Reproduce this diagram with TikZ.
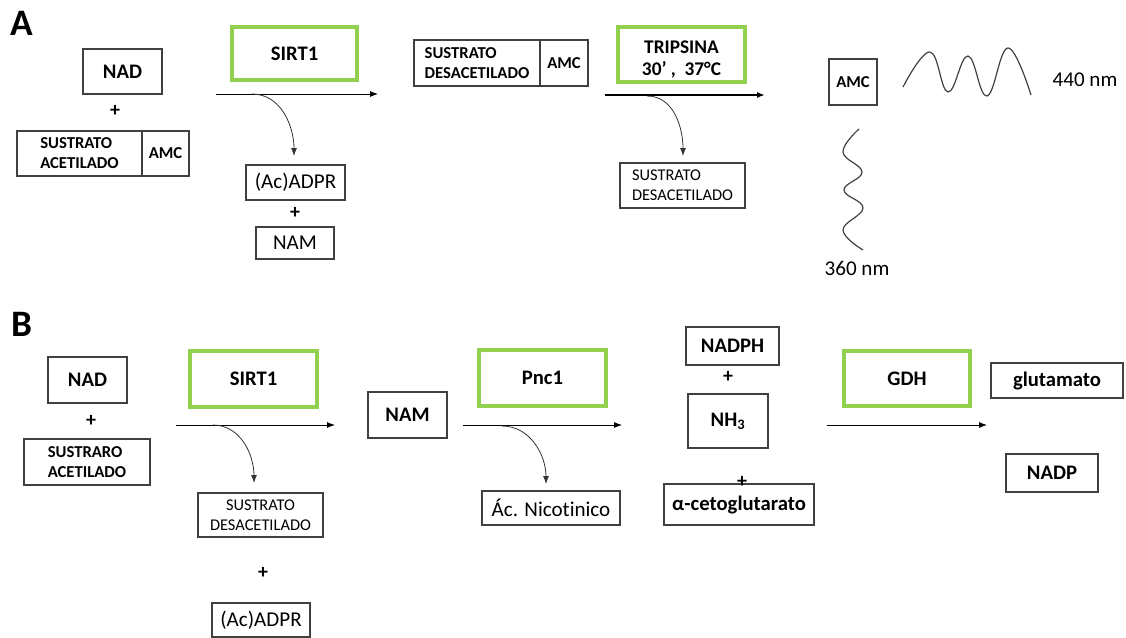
\documentclass[tikz,border=0pt]{standalone}
\usepackage{fontspec}
\setmainfont{Carlito}[Ligatures=NoCommon]
\usetikzlibrary{arrows.meta}
\definecolor{enzgreen}{HTML}{92D050}
\definecolor{boxgray}{HTML}{404040}
\tikzset{
    box/.style={draw=boxgray, line width=0.8pt, inner sep=0pt},
    enz/.style={draw=enzgreen, line width=2.4pt, inner sep=0pt, font=\bfseries\fontsize{15.5}{18}\selectfont},
    sz/.style 2 args={minimum width=#1*0.75pt, minimum height=#2*0.75pt},
    big/.style={font=\bfseries\fontsize{15.5}{18}\selectfont},
    reg/.style={font=\fontsize{15.8}{18}\selectfont},
    small/.style={font=\bfseries\fontsize{12.5}{15}\selectfont},
    smallreg/.style={font=\fontsize{12.3}{15}\selectfont},
    plus/.style={font=\bfseries\fontsize{15}{15}\selectfont, inner sep=0pt},
    panel/.style={font=\bfseries\fontsize{28}{30}\selectfont},
    arr/.style={-{Latex[length=6pt,width=4.5pt]}, line width=0.6pt},
    wave/.style={line width=0.9pt, draw=black!75},
}
\begin{document}
\begin{tikzpicture}[x=0.75pt, y=-0.75pt]
    \useasboundingbox (0,0) rectangle (1126,637);

    %Panel A
    \node[panel] (lblA) at (22,23) {A};
    \node[box,big,sz={79}{45}] (nadA) at (122.5,71.5) {NAD};
    \node[box,small,sz={125}{45},align=left] (sustA) at (79.5,153.5) {SUSTRATO\\ACETILADO};
    \node[box,small,sz={47}{45}] (amcA) at (165.5,153.5) {AMC};
    \node[enz,sz={125}{53}] (sirtA) at (294.5,53.5) {SIRT1};
    \node[box,reg,sz={99}{35}] (adprA) at (295.5,182.5) {(Ac)ADPR};
    \node[box,reg,sz={78}{32}] (namA) at (295,243) {NAM};

    \node[box,small,sz={126}{46},align=left] (desA) at (477,63) {SUSTRATO\\DESACETILADO};
    \node[box,small,sz={48}{46}] (amcB) at (564,63) {AMC};
    \node[enz,sz={127}{55}] (tripA) at (681.5,54.5) {};
    \node[align=center,font=\bfseries\fontsize{14.5}{16.5}\selectfont] (tripT) at (681.5,59) {TRIPSINA\\30’ ,\ \ 37°C};
    \node[box,smallreg,sz={125}{45},align=left] (desC) at (682.5,185.5) {SUSTRATO\\DESACETILADO};

    %Fluoreszenz
    \node[box,small,sz={48}{46}] (amcC) at (853,82) {AMC};
    \draw[wave] plot[smooth, tension=0.7] coordinates {(903,87) (930,52) (948,92) (968,56) (987,96) (1008,48) (1031,95)};
    \draw[wave] plot[smooth, tension=0.7] coordinates {(859,129) (843,152) (862,172) (844,190) (863,208) (843,230) (863,250)};
    \node[reg] (emA) at (1085,80) {440 nm};
    \node[reg] (exA) at (857,268) {360 nm};

    %Panel B
    \node[panel] (lblB) at (22,324) {B};
    \node[box,big,sz={79}{46}] (nadB) at (87.5,380) {NAD};
    \node[box,small,sz={126}{46},align=left] (sustB) at (87,462) {SUSTRARO\\ACETILADO};
    \node[enz,sz={127}{56}] (sirtB) at (253.5,379) {SIRT1};
    \node[box,smallreg,sz={125}{44},align=center] (desB) at (260.5,515) {SUSTRATO\\DESACETILADO};
    \node[box,reg,sz={98}{34}] (adprB) at (261,620) {(Ac)ADPR};

    \node[box,big,sz={79}{46}] (namB) at (407.5,415) {NAM};
    \node[enz,sz={127}{56}] (pncB) at (542.5,378) {Pnc1};
    \node[box,reg,sz={138}{34}] (nicB) at (551,508) {Ác. Nicotinico};

    \node[box,big,sz={93}{38}] (nadphB) at (732.5,346) {NADPH};
    \node[box,big,sz={80}{54}] (nhB) at (728,421) {NH\textsubscript{3}};
    \node[box,big,sz={150}{41}] (akgB) at (739,504.5) {α-cetoglutarato};
    \node[enz,sz={126}{55}] (gdhB) at (907,378.5) {GDH};
    \node[box,big,sz={132}{35}] (gluB) at (1057,380.5) {glutamato};
    \node[box,big,sz={92}{38}] (nadpB) at (1052,473) {NADP};

    %Plus
    \foreach \n/\x/\y in {pA1/115/111, pA2/295/213, pB1/91/421, pB2/263/573, pB3/728/377, pB4/742/482} {
        \node[plus] (\n) at (\x,\y) {+};
    }

    %Pfeile
    \foreach \n/\xa/\xb/\y in {rA1/216/378/94, rB1/176/335/425, rB2/463/622/425, rB3/827/987/425} {
        \coordinate (\n s) at (\xa,\y);
        \coordinate (\n e) at (\xb,\y);
        \draw[arr] (\n s) -- (\n e);
    }
    \coordinate (rA2s) at (605,95);
    \coordinate (rA2e) at (765,95);
    \draw[arr, line width=1.2pt] (rA2s) -- (rA2e);

    %Nebenprodukte
    \foreach \n/\xa/\ya/\xb/\yb in {cA1/252/94/294/156, cA2/647/96/683/156, cB1/213/425/254/483, cB2/502/426/546/484} {
        \coordinate (\n s) at (\xa,\ya);
        \coordinate (\n e) at (\xb,\yb);
        \draw[arr, draw=black!80] (\n s) to[out=0, in=90] (\n e);
    }
\end{tikzpicture}
\end{document}
